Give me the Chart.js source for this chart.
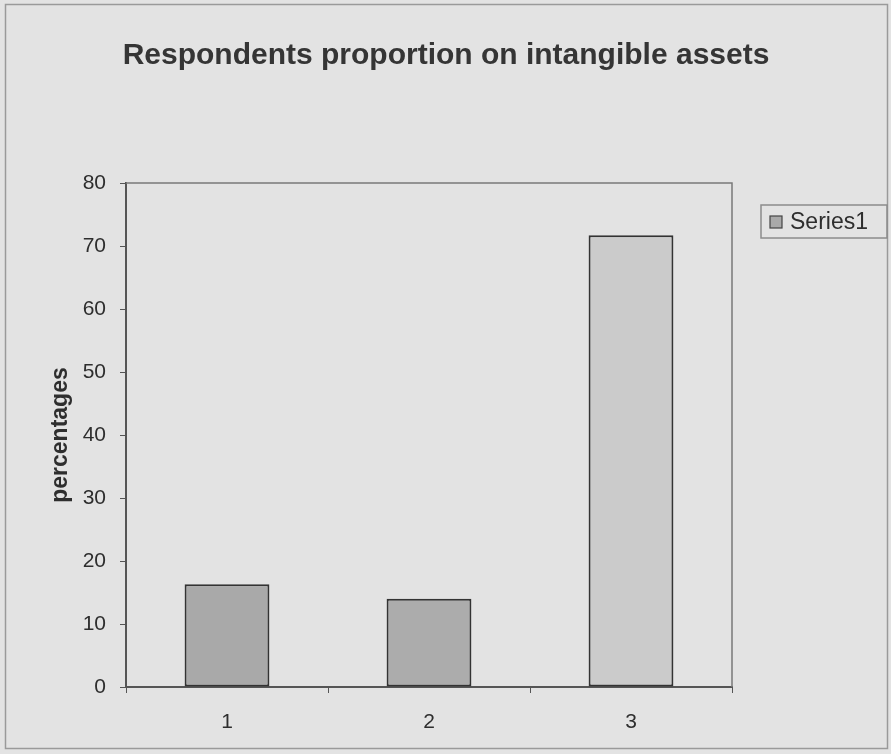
<!DOCTYPE html>
<html>
<head>
<meta charset="utf-8">
<title>Respondents proportion on intangible assets</title>
<script src="https://cdn.jsdelivr.net/npm/chart.js@4/dist/chart.umd.min.js"></script>
<style>
  html, body { margin: 0; padding: 0; background: #e3e3e3; }
  #wrap { width: 891px; height: 754px; position: relative; }
</style>
</head>
<body>
<div id="wrap"><canvas id="chart" width="891" height="754"></canvas></div>
<script>
// Chart data
const chartTitle = 'Respondents proportion on intangible assets';
const categories = ['1', '2', '3'];
const seriesName = 'Series1';
const seriesValues = [16.3, 14.0, 71.7];
const barColors = ['#a9a9a9', '#acacac', '#cbcbcb'];
const yTicks = [0, 10, 20, 30, 40, 50, 60, 70, 80];

const FONT = '"Liberation Sans", Arial, sans-serif';
const TEXT = '#2e2e2e';

// Page frame, centred title, plot-area border and the boxed legend
const decorations = {
  id: 'decorations',
  beforeDraw(chart) {
    const { ctx, width, height } = chart;
    ctx.save();
    ctx.fillStyle = '#e3e3e3';
    ctx.fillRect(0, 0, width, height);
    ctx.strokeStyle = '#9a9a9a';
    ctx.lineWidth = 1.5;
    ctx.strokeRect(5.5, 4.5, 882, 744);

    ctx.fillStyle = '#353535';
    ctx.font = 'bold 30px ' + FONT;
    ctx.textAlign = 'center';
    ctx.textBaseline = 'middle';
    ctx.fillText(chartTitle, 446, 56);
    ctx.restore();
  },
  afterDatasetsDraw(chart) {
    const { ctx, chartArea: a } = chart;
    ctx.save();
    ctx.strokeStyle = '#7a7a7a';
    ctx.lineWidth = 1.5;
    ctx.beginPath();
    ctx.moveTo(a.left, a.top);
    ctx.lineTo(a.right, a.top);
    ctx.lineTo(a.right, a.bottom);
    ctx.stroke();

    // legend
    const bx = 761, by = 205, bw = 126, bh = 33;
    ctx.strokeStyle = '#8c8c8c';
    ctx.lineWidth = 1.5;
    ctx.strokeRect(bx, by, bw, bh);
    ctx.fillStyle = barColors[0];
    ctx.fillRect(770, by + 11, 12, 12);
    ctx.strokeStyle = '#444';
    ctx.lineWidth = 1.2;
    ctx.strokeRect(770, by + 11, 12, 12);
    ctx.fillStyle = TEXT;
    ctx.font = '23px ' + FONT;
    ctx.textBaseline = 'middle';
    ctx.textAlign = 'left';
    ctx.fillText(chart.data.datasets[0].label, 790, by + bh / 2 + 1);
    ctx.restore();
  }
};

new Chart(document.getElementById('chart'), {
  type: 'bar',
  data: {
    labels: categories,
    datasets: [{
      label: seriesName,
      data: seriesValues,
      backgroundColor: barColors,
      borderColor: '#333333',
      borderWidth: 2,
      borderSkipped: false,
      categoryPercentage: 1.0,
      barPercentage: 0.42
    }]
  },
  options: {
    responsive: false,
    animation: false,
    layout: { padding: { top: 183, left: 0, right: 159, bottom: 0 } },
    plugins: {
      legend: { display: false },
      tooltip: { enabled: false },
      title: { display: false }
    },
    scales: {
      x: {
        grid: {
          display: true,
          drawOnChartArea: false,
          drawTicks: true,
          tickLength: 6,
          color: '#555',
          offset: true
        },
        border: { display: true, color: '#555', width: 2 },
        ticks: {
          color: TEXT,
          padding: 17,
          font: { family: FONT, size: 21 }
        },
        afterFit(scale) { scale.height = 67; }
      },
      y: {
        min: 0,
        max: 80,
        afterBuildTicks(scale) { scale.ticks = yTicks.map(v => ({ value: v })); },
        grid: {
          display: true,
          drawOnChartArea: false,
          drawTicks: true,
          tickLength: 6,
          color: '#555'
        },
        border: { display: true, color: '#555', width: 2 },
        ticks: {
          color: TEXT,
          padding: 14,
          font: { family: FONT, size: 21 }
        },
        title: {
          display: true,
          text: 'percentages',
          color: TEXT,
          font: { family: FONT, size: 23, weight: 'bold', lineHeight: 1.2 },
          padding: { top: 47, bottom: 0 }
        },
        afterFit(scale) { scale.width = 126; }
      }
    }
  },
  plugins: [decorations]
});
</script>
</body>
</html>
